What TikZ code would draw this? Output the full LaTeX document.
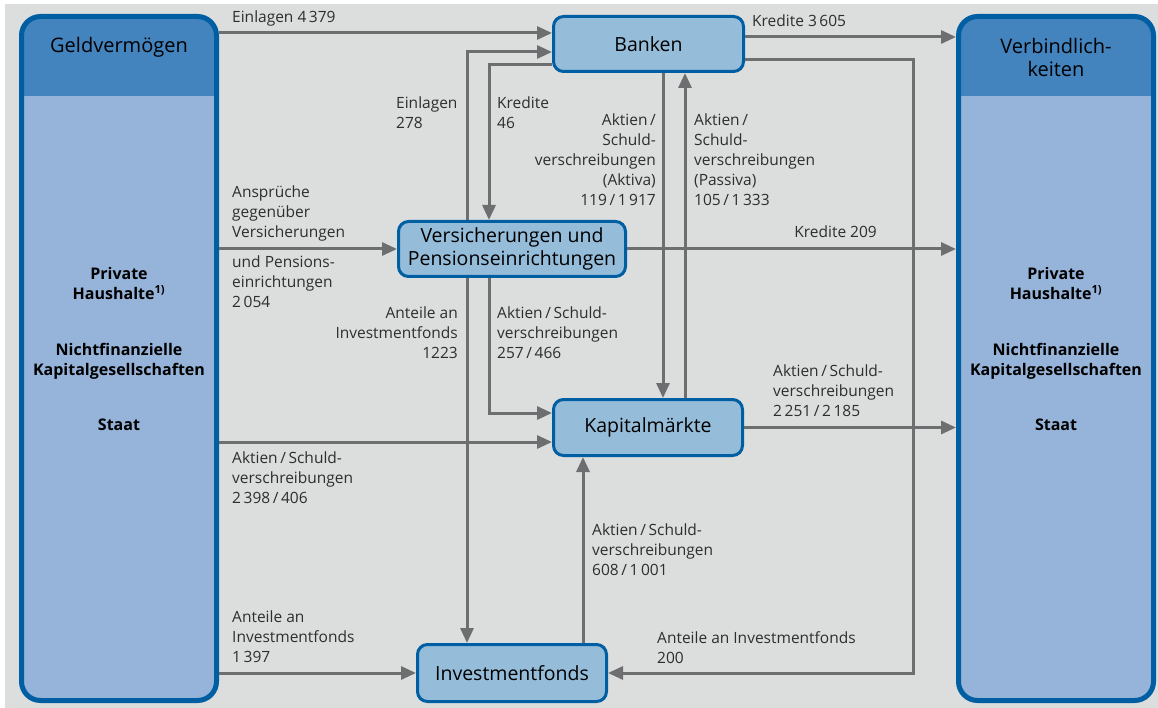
\documentclass[tikz,border=0pt]{standalone}
\usepackage{fontspec}
\setmainfont{Open Sans}
\usetikzlibrary{arrows.meta}
\definecolor{bggrey}{HTML}{DCDDDD}
\definecolor{flowgrey}{HTML}{6D6E70}
\definecolor{txtgrey}{HTML}{2E2E2E}
\definecolor{dblue}{HTML}{005EA3}
\definecolor{hblue}{HTML}{4383BE}
\definecolor{lblue}{HTML}{96B3D9}
\definecolor{mblue}{HTML}{95BDDA}

\begin{document}
\begin{tikzpicture}[x=1pt,y=-1pt,
  sector/.style={draw=dblue,line width=5pt,fill=lblue,rounded corners=19pt,
    minimum width=195pt,minimum height=684pt,inner sep=0pt,
    path picture={\fill[hblue,sharp corners] (path picture bounding box.north west) rectangle
      ([yshift=-80pt]path picture bounding box.north east);}},
  inst/.style={draw=dblue,line width=3pt,fill=mblue,rounded corners=10pt,inner sep=0pt,
    font=\fontsize{19.5}{23}\selectfont},
  head/.style={font=\fontsize{20}{23}\selectfont,align=center,inner sep=0pt},
  members/.style={font=\bfseries\fontsize{16}{20}\selectfont,align=center,inner sep=0pt,anchor=north},
  flow/.style={flowgrey,line width=3pt,-{Triangle[length=15pt,width=13pt]}},
  lbl/.style={inner sep=0pt,font=\fontsize{15.5}{20}\selectfont,text=txtgrey,align=left,anchor=north west},
  rlbl/.style={lbl,align=right,anchor=north east}]
\useasboundingbox (0,0) rectangle (1158,708);
\fill[bggrey] (5,4) rectangle (1158,708);

\node[sector] (gv) at (119,358.5) {};
\node[sector] (vb) at (1056,358.5) {};
\node[head] (gvh) at (119,47) {Geldvermögen};
\node[head] (vbh) at (1056,58) {Verbindlich-\\keiten};
\foreach \s/\x in {gvm/119,vbm/1056}
  \node[members] (\s) at (\x,267) {Private\\Haushalte\textsuperscript{1)}\\[36pt]Nichtfinanzielle\\Kapitalgesellschaften\\[35pt]Staat};

\node[inst,minimum width=190pt,minimum height=55pt] (bk) at (648.5,44) {Banken};
\node[inst,minimum width=227pt,minimum height=55pt,align=center,font=\fontsize{19.5}{23}\selectfont] (vp) at (512,249) {Versicherungen und\\Pensionseinrichtungen};
\node[inst,minimum width=189pt,minimum height=56pt] (km) at (648,427.5) {Kapitalmärkte};
\node[inst,minimum width=189pt,minimum height=57pt] (if) at (512,673) {Investmentfonds};

\draw[flow] (gv.east |- 0,33) -- (bk.west |- 0,33);
\draw[flow] (vp.north -| 467,0) |- (bk.west |- 0,52);
\draw[flow] (bk.west |- 0,65) -| (vp.north -| 489,0);
\draw[flow] (bk.south -| 663,0) -- (km.north -| 663,0);
\draw[flow] (km.north -| 685,0) -- (bk.south -| 685,0);
\draw[flow] (bk.east |- 0,37) -- (vb.west |- 0,37);
\draw[flow] (bk.east |- 0,60) -| (913,673) -- (if.east);
\draw[flow] (gv.east |- vp.west) -- (vp.west);
\draw[flow] (vp.east) -- (vb.west |- vp.east);
\draw[flow] (vp.south -| 467,0) -- (if.north -| 467,0);
\draw[flow] (vp.south -| 489,0) |- (km.west |- 0,413);
\draw[flow] (gv.east |- 0,442) -- (km.west |- 0,442);
\draw[flow] (km.east) -- (vb.west |- km.east);
\draw[flow] (if.north -| 583,0) -- (km.south -| 583,0);
\draw[flow] (gv.east |- if.west) -- (if.west);

\node[lbl] (l4379) at (232,11) {Einlagen 4\,379};
\node[lbl] (l3605) at (752,15) {Kredite 3\,605};
\node[lbl] (l278) at (396,97) {Einlagen\\278};
\node[lbl] (l46) at (497,97) {Kredite\\46};
\node[rlbl] (lakt) at (656,114) {Aktien\,/\\Schuld-\\verschreibungen\\(Aktiva)\\119\,/\,1\,917};
\node[lbl] (lpas) at (694,114) {Aktien\,/\\Schuld-\\verschreibungen\\(Passiva)\\105\,/\,1\,333};
\node[lbl] (lans) at (232,186) {Ansprüche\\gegenüber\\Versicherungen};
\node[lbl] (lpen) at (232,256) {und Pensions-\\einrichtungen\\2\,054};
\node[rlbl] (l209) at (877,226) {Kredite 209};
\node[rlbl] (l1223) at (458,307) {Anteile an\\Investmentfonds\\1223};
\node[lbl] (l257) at (497,307) {Aktien\,/\,Schuld-\\verschreibungen\\257\,/\,466};
\node[lbl] (l2251) at (773,365) {Aktien\,/\,Schuld-\\verschreibungen\\2\,251\,/\,2\,185};
\node[lbl] (l2398) at (232,452) {Aktien\,/\,Schuld-\\verschreibungen\\2\,398\,/\,406};
\node[lbl] (l608) at (592,524) {Aktien\,/\,Schuld-\\verschreibungen\\608\,/\,1\,001};
\node[lbl] (l1397) at (232,611) {Anteile an\\Investmentfonds\\1\,397};
\node[lbl] (l200) at (657,631) {Anteile an Investmentfonds\\200};
\end{tikzpicture}
\end{document}
